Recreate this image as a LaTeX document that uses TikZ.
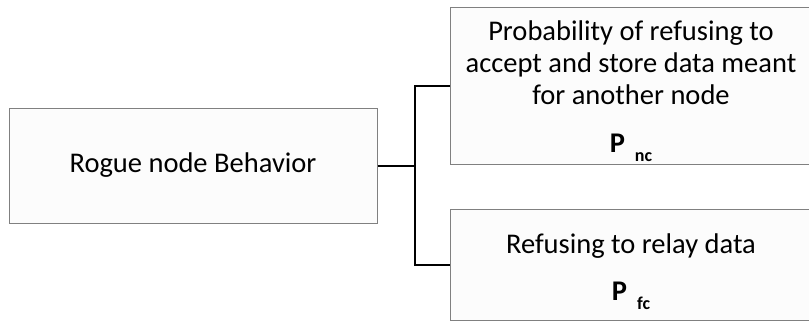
\documentclass[tikz,border=0pt]{standalone}
\usepackage{fontspec}
\setmainfont{Carlito}
\usetikzlibrary{calc}

\definecolor{boxgray}{HTML}{808080}
\definecolor{boxfill}{HTML}{FCFCFC}

%probability symbol with a lowered index
\newcommand{\probsym}[1]{\textbf{P}\hspace{10pt}\raisebox{-9pt}{\fontsize{18}{18}\selectfont\bfseries #1}}
%strut that pushes the first line down a little
\newcommand{\topstrut}[1]{\rule{0pt}{#1}}

\tikzset{
  box/.style={draw=boxgray, fill=boxfill, line width=1pt, inner sep=0pt,
              align=center, font=\fontsize{28.5}{32}\selectfont},
  link/.style={line width=2pt}
}

\begin{document}
\begin{tikzpicture}[x=1pt,y=-1pt]

\useasboundingbox (0,0) rectangle (809,322);

%left box
\node[box, minimum width=368pt, minimum height=115pt] (rogue) at (193,165.5)
  {Rogue node Behavior};

%right boxes (cut off at the right edge)
\node[box, minimum width=362pt, minimum height=157pt] (refuse) at (631,85.5)
  {\topstrut{32pt}Probability of refusing to\\accept and store data meant\\for another node\\[16pt]\probsym{nc}};
\node[box, minimum width=362pt, minimum height=111pt] (relay) at (631,264.5)
  {\topstrut{34pt}Refusing to relay data\\[15pt]\probsym{fc}};

%fork
\coordinate (fork) at ($(rogue.east)+(37,0)$);
\draw[link] (rogue.east) -- (fork);
\draw[link] (refuse.west) -| (fork) |- (relay.west);

\end{tikzpicture}
\end{document}
